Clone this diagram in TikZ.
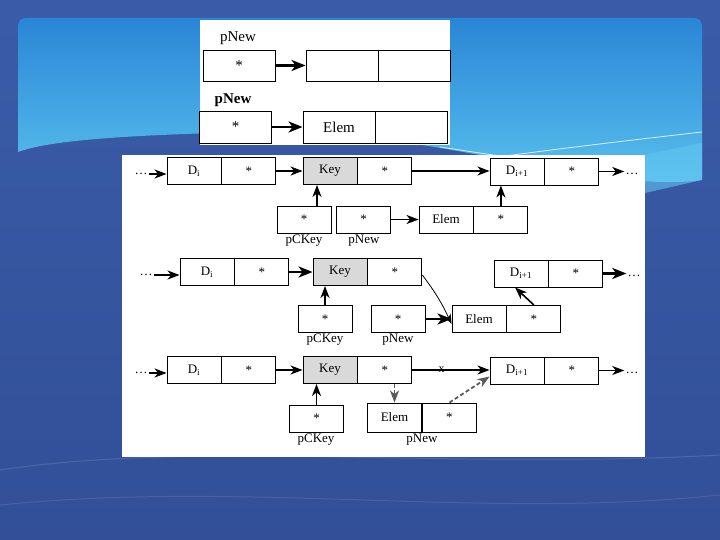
\documentclass[tikz,border=0pt]{standalone}
\usepackage{fontspec}
\setmainfont{Liberation Serif}
\usetikzlibrary{arrows.meta}
\usetikzlibrary{positioning}
\definecolor{slideblue}{HTML}{3A5CA8}
\definecolor{slidedeep}{HTML}{324F98}
\definecolor{bandtop}{HTML}{2A86D6}
\definecolor{bandbot}{HTML}{5CC4EF}
\definecolor{facet}{HTML}{62C6F0}
\definecolor{keygray}{HTML}{D9D9D9}
\definecolor{newgray}{HTML}{5A5A5A}

\begin{document}
\begin{tikzpicture}
[>={Stealth[length=12pt,width=9pt,inset=3.5pt]},x=1pt,y=-1pt,
 every node/.style={font=\fontsize{13}{15}\selectfont},
 slot/.style={draw,line width=0.9pt,fill=white,minimum width=54pt,minimum height=27pt,inner sep=0pt},
 keyslot/.style={slot,fill=keygray},
 bigslot/.style={slot,minimum width=72pt,minimum height=31pt,font=\fontsize{15}{17}\selectfont},
 tag/.style={inner sep=0pt},
 more/.style={inner sep=1pt},
 link/.style={->,line width=1.6pt},
 fatlink/.style={-{Stealth[length=14pt,width=11pt,inset=4pt]},line width=2.6pt},
 thinlink/.style={-{Stealth[length=10pt,width=7pt,inset=3pt]},line width=0.8pt},
 newlink/.style={->,line width=1.8pt,dash pattern=on 4pt off 2.5pt,newgray}]

% slide background
\useasboundingbox (0,0) rectangle (720,540);
\shade[top color=slideblue,bottom color=slidedeep] (0,0) rectangle (720,540);
\shade[top color=bandtop,bottom color=bandbot] (18,152) [rounded corners=8pt] -- (18,18) -- (702,18) [sharp corners] -- (702,180)
  .. controls (600,195) and (420,125) .. (250,132) .. controls (130,135) and (50,140) .. (18,152) -- cycle;
\fill[facet,opacity=0.6] (645,155) -- (702,143) -- (702,180) -- (645,193) -- cycle;
\draw[white,line width=0.8pt,opacity=0.8] (440,147) -- (500,156);
\draw[white,line width=0.8pt,opacity=0.8] (505,156) .. controls (580,146) and (650,138) .. (702,132);
\draw[white,opacity=0.12,line width=1pt] (0,470) .. controls (200,440) and (450,470) .. (720,455);
\draw[white,opacity=0.10,line width=1pt] (0,505) .. controls (250,480) and (480,520) .. (720,495);

% panels
\fill[white] (200,20) rectangle (450,145);
\fill[white] (122,155) rectangle (645,457);

% pNew before and after
\node[tag,font=\fontsize{15}{17}\selectfont] (tagA) at (238,38) {pNew};
\node[bigslot] (pnewA) at (239,65.5) {*};
\node[bigslot] (elemA) at (342,65.5) {};
\node[bigslot,anchor=west] (elemAx) at (elemA.east) {};
\draw[fatlink] (pnewA.east) -- (elemA.west);

\node[tag,font=\fontsize{15}{17}\selectfont\bfseries] (tagB) at (233,100) {pNew};
\node[bigslot,minimum height=32pt] (pnewB) at (235.5,127) {*};
\node[bigslot,minimum height=32pt] (elemB) at (339,127) {Elem};
\node[bigslot,minimum height=32pt,anchor=west] (elemBx) at (elemB.east) {};
\draw[fatlink] (pnewB.east) -- (elemB.west);

% row 1
\node[more] (ld1) at (141,174) {\dots};
\node[slot] (d1) at (194,171) {D\textsubscript{i}};
\node[slot,anchor=west] (d1p) at (d1.east) {*};
\node[keyslot] (k1) at (330,171) {Key};
\node[slot,anchor=west] (k1p) at (k1.east) {*};
\node[slot] (f1) at (517,171.5) {D\textsubscript{i+1}};
\node[slot,anchor=west] (f1p) at (f1.east) {*};
\node[more] (rd1) at (632,174) {\dots};
\node[slot] (c1) at (304,219.5) {*};
\node[tag] (cl1) at (304,241) {pCKey};
\node[slot] (n1) at (363.5,219.5) {*};
\node[tag] (nl1) at (364,241) {pNew};
\node[slot] (e1) at (446,219.5) {Elem};
\node[slot,anchor=west] (e1p) at (e1.east) {*};

\draw[link] (ld1.east) -- (ld1.east -| d1.west);
\draw[link] (d1p.east) -- (k1.west);
\draw[link] (k1p.east) -- (f1.west |- k1p.east);
\draw[link] (f1p.east) -- (f1p.east -| rd1.west);
\draw[link] ([xshift=13pt]c1.north) -- ([xshift=13pt]c1.north |- k1.south);
\draw[link] (n1.east) -- (e1.west);
\draw[link] (e1p.north) -- (e1p.north |- f1.south);

% row 2
\node[more] (ld2) at (146,275) {\dots};
\node[slot] (d2) at (207,272) {D\textsubscript{i}};
\node[slot,anchor=west] (d2p) at (d2.east) {*};
\node[keyslot] (k2) at (340,272) {Key};
\node[slot,anchor=west] (k2p) at (k2.east) {*};
\node[slot] (f2) at (521,273.5) {D\textsubscript{i+1}};
\node[slot,anchor=west] (f2p) at (f2.east) {*};
\node[more] (rd2) at (634,276) {\dots};
\node[slot] (c2) at (325,319) {*};
\node[tag] (cl2) at (325,340) {pCKey};
\node[slot] (n2) at (398,319) {*};
\node[tag] (nl2) at (398,340) {pNew};
\node[slot] (e2) at (479,319) {Elem};
\node[slot,anchor=west] (e2p) at (e2.east) {*};

\draw[link] (ld2.east) -- (ld2.east -| d2.west);
\draw[fatlink] (d2p.east) -- (k2.west);
\draw[thinlink] ([yshift=-3pt]k2p.east) to[bend left=6] ([yshift=-5pt]e2.west);
\draw[fatlink] (f2p.east) -- (f2p.east -| rd2.west);
\draw[link] (c2.north) -- (c2.north |- k2.south);
\draw[fatlink] (n2.east) -- (e2.west);
\draw[link] (e2p.north) -- ([xshift=-6pt]f2.south);

% row 3
\node[more] (ld3) at (141,373) {\dots};
\node[slot] (d3) at (194,370) {D\textsubscript{i}};
\node[slot,anchor=west] (d3p) at (d3.east) {*};
\node[keyslot] (k3) at (330,370) {Key};
\node[slot,anchor=west] (k3p) at (k3.east) {*};
\node[slot] (f3) at (517,370.5) {D\textsubscript{i+1}};
\node[slot,anchor=west] (f3p) at (f3.east) {*};
\node[more] (rd3) at (632,373) {\dots};
\node[slot] (c3) at (316.5,418.5) {*};
\node[tag] (cl3) at (316,440) {pCKey};
\node[slot,minimum height=29pt] (e3) at (394.5,417.5) {Elem};
\node[slot,minimum height=29pt,anchor=west] (e3p) at (e3.east) {*};
\node[tag] (nl3) at (422,440) {pNew};

\draw[link] (ld3.east) -- (ld3.east -| d3.west);
\draw[link] (d3p.east) -- (k3.west);
\draw[link] (k3p.east) -- node[tag,pos=0.38,font=\fontsize{12}{14}\selectfont] (cut) {x} (f3.west |- k3p.east);
\draw[link] (f3p.east) -- (f3p.east -| rd3.west);
\draw[link] (c3.north) -- (c3.north |- k3.south);
\draw[newlink] (e3.north |- k3p.south) -- (e3.north);
\draw[newlink] (e3p.north) -- ([yshift=-6pt]f3.west);
\end{tikzpicture}
\end{document}
